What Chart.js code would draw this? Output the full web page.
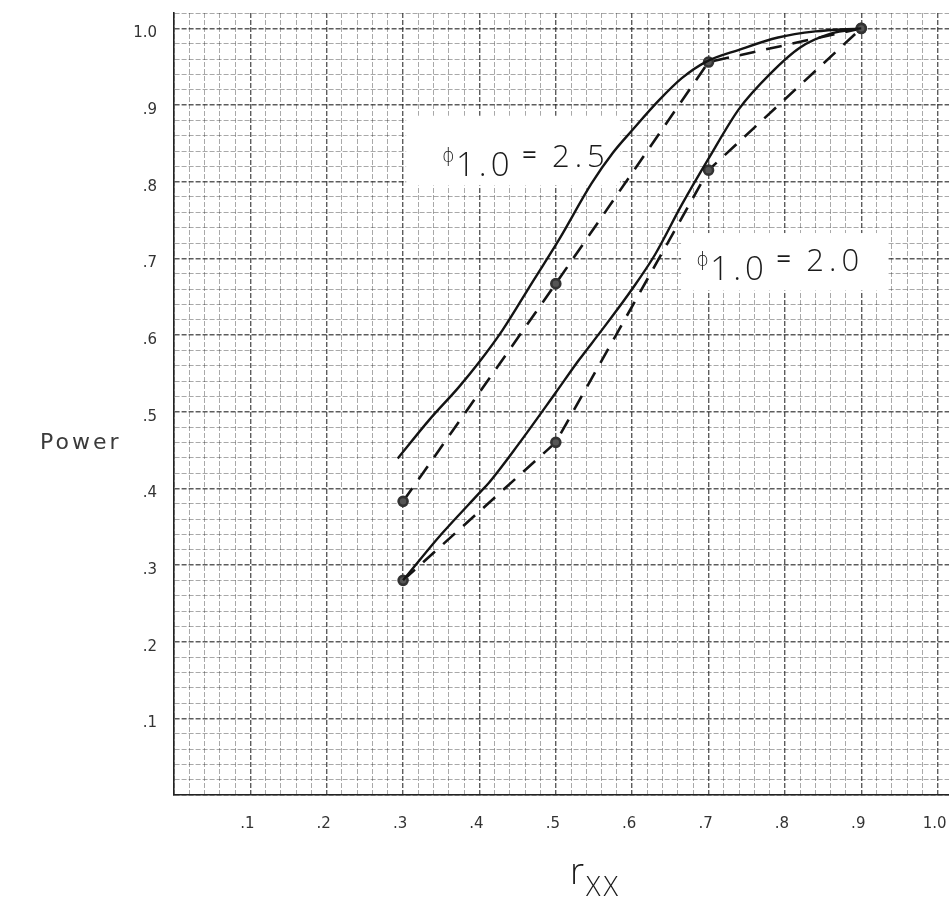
<!DOCTYPE html>
<html>
<head>
<meta charset="utf-8">
<script src="https://cdn.jsdelivr.net/npm/chart.js@4.4.0/dist/chart.umd.min.js"></script>
<style>
  html, body { margin: 0; padding: 0; overflow: hidden; background: #fff; }
  #wrap { width: 960px; height: 921px; }
</style>
</head>
<body>
<div id="wrap"><canvas id="chart" width="960" height="921"></canvas></div>
<script>
// r_xx where the observed power was plotted (dots + dashed lines)
const rxxObserved = [0.3, 0.5, 0.7, 0.9];
const powerObs25 = [0.383, 0.667, 0.956, 1.0];
const powerObs20 = [0.28, 0.46, 0.815, 1.0];

// hand drawn theoretical curves
const rxxCurve25 = [0.293, 0.334, 0.373, 0.40, 0.43, 0.47, 0.504, 0.547, 0.575, 0.60, 0.634, 0.665, 0.696, 0.74, 0.791, 0.84, 0.9];
const powerCurve25 = [0.439, 0.489, 0.532, 0.565, 0.606, 0.67, 0.724, 0.798, 0.838, 0.867, 0.905, 0.935, 0.956, 0.972, 0.988, 0.996, 1.0];
const rxxCurve20 = [0.3, 0.35, 0.4, 0.413, 0.45, 0.5, 0.53, 0.56, 0.6, 0.63, 0.665, 0.7, 0.74, 0.78, 0.82, 0.86, 0.9];
const powerCurve20 = [0.28, 0.34, 0.394, 0.408, 0.456, 0.525, 0.567, 0.606, 0.66, 0.705, 0.77, 0.83, 0.895, 0.94, 0.975, 0.993, 1.0];

const phiLabels = ["2.5", "2.0"];

// white label patches pasted on the graph paper (data units)
const patches = [
  { x0: 0.304, x1: 0.584, y0: 0.795, y1: 0.886, tx: 0.351, ty: 0.807 },
  { x0: 0.664, x1: 0.934, y0: 0.658, y1: 0.733, tx: 0.684, ty: 0.672 },
];

function toPoints(xs, ys) {
  return xs.map((x, i) => ({ x: x, y: ys[i] }));
}

// only every 0.1 gets a label, written like ".3" on the sheet
function tickText(value) {
  const k = Math.round(value * 50);
  if (k % 5 !== 0 || k === 0 || k > 50) return "";
  const s = (k / 50).toFixed(1);
  return s === "1.0" ? "1.0" : s.replace(/^0/, "");
}

function isMajor(ctx) {
  return Math.round(ctx.tick.value * 50) % 5 === 0;
}

const paperPlugin = {
  id: "paper",
  beforeDatasetsDraw(chart) {
    const { ctx, scales } = chart;
    const xs = scales.x, ys = scales.y;
    ctx.save();
    patches.forEach((p, i) => {
      const left = xs.getPixelForValue(p.x0);
      const right = xs.getPixelForValue(p.x1);
      const top = ys.getPixelForValue(p.y1);
      const bottom = ys.getPixelForValue(p.y0);
      ctx.fillStyle = "#fff";
      ctx.fillRect(left, top, right - left, bottom - top);

      const X = xs.getPixelForValue(p.tx);
      const B = ys.getPixelForValue(p.ty);
      ctx.fillStyle = "#1a1a1a";
      ctx.textBaseline = "alphabetic";
      ctx.textAlign = "left";
      ctx.font = "300 19px 'Open Sans', 'DejaVu Sans'";
      ctx.fillText("\u03d5", X, B - 14);
      ctx.font = "300 33px 'Open Sans', 'DejaVu Sans'";
      ctx.letterSpacing = "4px";
      ctx.fillText("1.0", X + 14, B);
      ctx.font = "26px 'Open Sans', 'DejaVu Sans'";
      ctx.letterSpacing = "0px";
      ctx.fillText("=", X + 80, B - 12);
      ctx.font = "300 31px 'Open Sans', 'DejaVu Sans'";
      ctx.letterSpacing = "5px";
      ctx.fillText(phiLabels[i], X + 110, B - 9);
      ctx.letterSpacing = "0px";
    });
    ctx.restore();
  },
  afterDraw(chart) {
    const { ctx } = chart;
    ctx.save();
    ctx.fillStyle = "#3a3a3a";
    ctx.textAlign = "left";
    ctx.font = "22px 'DejaVu Sans'";
    ctx.letterSpacing = "3px";
    ctx.fillText("Power", 40, 449);
    ctx.letterSpacing = "0px";
    ctx.fillStyle = "#1a1a1a";
    ctx.font = "300 36px 'Open Sans', 'DejaVu Sans'";
    ctx.fillText("r", 570, 884);
    ctx.font = "300 27px 'Open Sans', 'DejaVu Sans'";
    ctx.letterSpacing = "3px";
    ctx.fillText("XX", 586, 896);
    ctx.restore();
  },
};

const lineBlack = "#141414";

// keep the plot frame where the sheet has it, labels do not push it
function noLabelPadding(scale) {
  scale.paddingTop = 0;
  scale.paddingBottom = 0;
  scale.paddingLeft = 0;
  scale.paddingRight = 0;
}

new Chart(document.getElementById("chart"), {
  type: "scatter",
  data: {
    datasets: [
      {
        data: toPoints(rxxCurve25, powerCurve25),
        showLine: true,
        borderColor: lineBlack,
        borderWidth: 2.4,
        pointRadius: 0,
        cubicInterpolationMode: "monotone",
      },
      {
        data: toPoints(rxxObserved, powerObs25),
        showLine: true,
        borderColor: lineBlack,
        borderWidth: 2.6,
        borderDash: [16, 11],
        pointRadius: 4.5,
        pointBackgroundColor: "#555",
        pointBorderColor: "#333",
      },
      {
        data: toPoints(rxxCurve20, powerCurve20),
        showLine: true,
        borderColor: lineBlack,
        borderWidth: 2.4,
        pointRadius: 0,
        cubicInterpolationMode: "monotone",
      },
      {
        data: toPoints(rxxObserved, powerObs20),
        showLine: true,
        borderColor: lineBlack,
        borderWidth: 2.6,
        borderDash: [16, 11],
        pointRadius: 4.5,
        pointBackgroundColor: "#555",
        pointBorderColor: "#333",
      },
    ],
  },
  options: {
    responsive: false,
    animation: false,
    layout: { padding: { top: 13, right: 4, left: 0, bottom: 0 } },
    plugins: { legend: { display: false }, tooltip: { enabled: false } },
    scales: {
      x: {
        type: "linear",
        min: 0,
        max: 1.02,
        afterFit: (scale) => { scale.height = 126; noLabelPadding(scale); },
        ticks: {
          stepSize: 0.02,
          autoSkip: false,
          maxRotation: 0,
          padding: 20,
          labelOffset: -3,
          color: "#333",
          font: { family: "'DejaVu Sans'", size: 15 },
          callback: tickText,
        },
        grid: {
          drawTicks: false,
          color: (c) => (isMajor(c) ? "rgba(30,30,30,0.72)" : "rgba(40,40,40,0.4)"),
          lineWidth: (c) => (isMajor(c) ? 1.4 : 1),
        },
        border: { color: "#222", width: 1.6, dash: [5, 2] },
      },
      y: {
        type: "linear",
        min: 0,
        max: 1.02,
        afterFit: (scale) => { scale.width = 174; noLabelPadding(scale); },
        ticks: {
          stepSize: 0.02,
          autoSkip: false,
          padding: 17,
          labelOffset: 5,
          color: "#333",
          font: { family: "'DejaVu Sans'", size: 15 },
          callback: tickText,
        },
        grid: {
          drawTicks: false,
          color: (c) => (isMajor(c) ? "rgba(30,30,30,0.72)" : "rgba(40,40,40,0.4)"),
          lineWidth: (c) => (isMajor(c) ? 1.4 : 1),
        },
        border: { color: "#222", width: 1.6, dash: [5, 2] },
      },
    },
  },
  plugins: [paperPlugin],
});
</script>
</body>
</html>
